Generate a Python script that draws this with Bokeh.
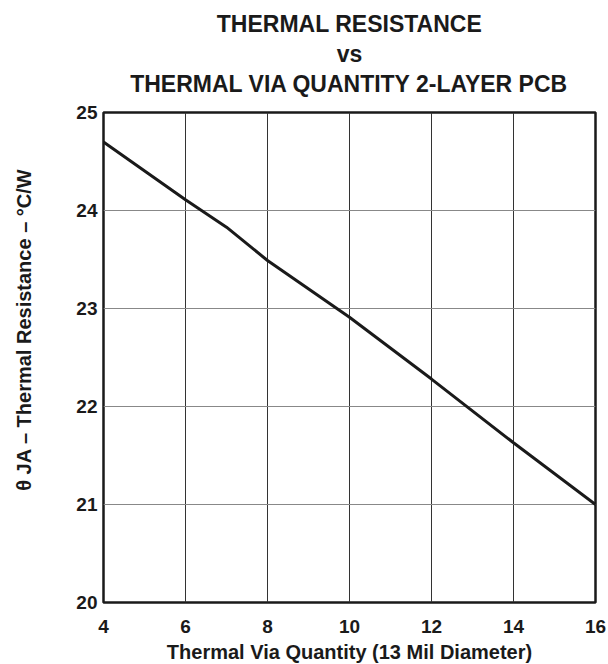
import math
from bokeh.plotting import figure
from bokeh.models import Title, FixedTicker, Range1d
from bokeh.embed import file_html
from bokeh.resources import INLINE

# Data
via_quantity = [4, 6, 7, 8, 10, 12, 14, 16]
theta_ja = [24.70, 24.11, 23.83, 23.49, 22.91, 22.28, 21.63, 21.00]

x_ticks = [4, 6, 8, 10, 12, 14, 16]
y_ticks = [20, 21, 22, 23, 24, 25]

title_lines = ["THERMAL RESISTANCE", "vs", "THERMAL VIA QUANTITY 2-LAYER PCB"]
x_label = "Thermal Via Quantity (13 Mil Diameter)"
y_label = "\u00a0" * 10 + "\u03b8 JA \u2013 Thermal Resistance \u2013 \u00b0C/W"

FONT = "Liberation Sans"
INK = "#1a1a1a"

p = figure(
    frame_width=492, frame_height=490,
    min_border_left=103, min_border_top=112, min_border_right=13, min_border_bottom=58,
    x_range=Range1d(4, 16), y_range=Range1d(20, 25),
    output_backend="svg", toolbar_location=None,
    background_fill_color="white", border_fill_color="white",
)

p.line(via_quantity, theta_ja, line_width=3, line_color=INK)

p.outline_line_color = INK
p.outline_line_width = 2.5

p.xgrid.ticker = FixedTicker(ticks=x_ticks)
p.ygrid.ticker = FixedTicker(ticks=y_ticks)
p.xgrid.grid_line_color = "#333333"
p.xgrid.grid_line_width = 1
p.ygrid.grid_line_color = "#888888"
p.ygrid.grid_line_width = 1

for ax, ticks in ((p.xaxis[0], x_ticks), (p.yaxis[0], y_ticks)):
    ax.ticker = FixedTicker(ticks=ticks)
    ax.axis_line_color = None
    ax.major_tick_line_color = None
    ax.minor_tick_line_color = None
    ax.major_tick_out = 0
    ax.major_tick_in = 0
    ax.major_label_text_font = FONT
    ax.major_label_text_font_style = "bold"
    ax.major_label_text_font_size = "19px"
    ax.major_label_text_color = INK
    ax.axis_label_text_font = FONT
    ax.axis_label_text_font_style = "bold"
    ax.axis_label_text_font_size = "20px"
    ax.axis_label_text_color = INK

p.xaxis.major_label_standoff = 17
p.yaxis.major_label_standoff = 6
p.xaxis.axis_label = x_label
p.yaxis.axis_label = y_label
p.xaxis.axis_label_standoff = 5
p.yaxis.axis_label_standoff = 38

# spacer panel between the frame and the title block
p.add_layout(Title(text=" ", text_font_size="1px", standoff=10.3), "above")

# Title lines: added nearest-first
for txt in reversed(title_lines):
    p.add_layout(Title(
        text=txt, align="center", vertical_align="top", standoff=2,
        text_font=FONT, text_font_style="bold", text_font_size="23px",
        text_color=INK,
    ), "above")

open("out.html", "w").write(file_html(p, INLINE))
